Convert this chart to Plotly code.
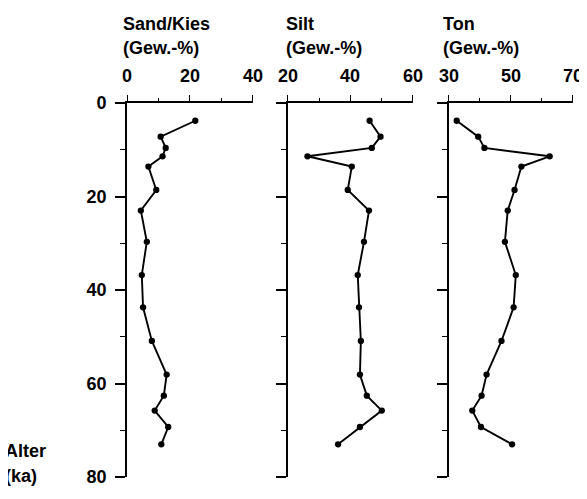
import plotly.graph_objects as go

# ---- data ----
age_ka = [3.8, 7.2, 9.6, 11.4, 13.6, 18.6, 23.0, 29.7, 36.8, 43.7, 50.9, 58.1, 62.6, 65.8, 69.3, 73.0]
sand_kies = [21.7, 10.7, 12.3, 11.3, 6.8, 9.3, 4.4, 6.3, 4.7, 5.1, 7.9, 12.6, 11.7, 8.8, 13.1, 10.9]
silt = [46.2, 49.7, 46.9, 26.3, 40.5, 39.2, 46.0, 44.4, 42.4, 42.8, 43.4, 43.1, 45.3, 50.1, 43.1, 36.1]
ton = [32.6, 39.5, 41.5, 62.5, 53.4, 51.2, 49.0, 48.1, 51.6, 50.9, 47.0, 42.2, 40.6, 37.6, 40.4, 50.4]

panel_titles = ["Sand/Kies", "Silt", "Ton"]
unit_label = "(Gew.-%)"
x_ranges = [[0, 40], [20, 60], [30, 70]]
x_ticks = [[0, 20, 40], [20, 40, 60], [30, 50, 70]]
y_ticks = [0, 20, 40, 60, 80]
y_label = ["Alter", "(ka)"]

# ---- layout geometry (pixels of the 587x499 picture) ----
W, H = 587, 499
L, T = 127, 102.7
R, B = W - 573.5, H - 487
pw = W - L - R
ph = H - T - B
panel_px = [(127, 253), (288, 413), (449, 573.5)]
domains = [[(a - L) / pw, (b - L) / pw] for a, b in panel_px]

def px_x(x):
    return (x - L) / pw

def px_y(y):
    return 1 - (y - T) / ph

FONT = "Liberation Sans, Arial, sans-serif"
fnt = dict(family=FONT, size=18, color="black", weight="bold")

fig = go.Figure()
series = [sand_kies, silt, ton]
annotations = []
for i, vals in enumerate(series):
    sfx = "" if i == 0 else str(i + 1)
    fig.add_trace(go.Scatter(
        x=vals, y=age_ka, mode="lines+markers",
        line=dict(color="black", width=1.9),
        marker=dict(color="black", size=6.3),
        xaxis="x" + sfx, yaxis="y" + sfx, showlegend=False,
        cliponaxis=False, hoverinfo="skip",
    ))
    fig.layout["xaxis" + sfx] = dict(
        domain=domains[i], range=x_ranges[i], anchor="y" + sfx, side="top",
        showline=True, linecolor="black", linewidth=1.5,
        ticks="outside", ticklen=6, tickwidth=1.3, tickcolor="black",
        tickmode="array", tickvals=x_ticks[i], showticklabels=False,
        minor=dict(tickmode="linear", tick0=x_ranges[i][0], dtick=10, ticks="outside",
                   ticklen=3, tickcolor="black", tickwidth=1.2),
        showgrid=False, zeroline=False, fixedrange=True,
        layer="above traces",
    )
    fig.layout["yaxis" + sfx] = dict(
        domain=[0, 1], range=[80, 0], anchor="x" + sfx,
        showline=True, linecolor="black", linewidth=1.6,
        ticks="outside", ticklen=10, tickwidth=1.5, tickcolor="black",
        tickmode="array", tickvals=y_ticks, showticklabels=(i == 0),
        ticklabelstandoff=5,
        minor=dict(tickmode="linear", tick0=0, dtick=10, ticks="outside",
                   ticklen=5, tickcolor="black", tickwidth=1.2),
        showgrid=False, zeroline=False, tickfont=fnt, fixedrange=True,
    )
    # top tick labels, placed on the axis values
    for tv in x_ticks[i]:
        annotations.append(dict(
            text=str(tv), x=tv, xref="x" + sfx, y=px_y(75), yref="paper",
            xanchor="center", yanchor="middle", showarrow=False, font=fnt,
        ))

title_left_px = [121, 284, 441]
for i, t in enumerate(panel_titles):
    annotations.append(dict(text=t, x=px_x(title_left_px[i]), y=px_y(21.5), xref="paper", yref="paper",
                            xanchor="left", yanchor="middle", showarrow=False, font=fnt))
    annotations.append(dict(text=unit_label, x=px_x(title_left_px[i]), y=px_y(46), xref="paper", yref="paper",
                            xanchor="left", yanchor="middle", showarrow=False, font=fnt))
annotations.append(dict(text=y_label[0], x=px_x(3), y=px_y(460), xref="paper", yref="paper",
                        xanchor="left", yanchor="middle", showarrow=False, font=fnt))
annotations.append(dict(text=y_label[1], x=px_x(3), y=px_y(486), xref="paper", yref="paper",
                        xanchor="left", yanchor="middle", showarrow=False, font=fnt))

fig.update_layout(
    margin=dict(l=L, r=R, t=T, b=B, pad=0),
    paper_bgcolor="white", plot_bgcolor="white",
    annotations=annotations, font=fnt, hovermode=False,
)
# the page body has a default 8px margin; pull the plot div back onto the page corner
fig.write_html(
    "out.html",
    config={"displayModeBar": False, "responsive": False},
    default_width=f"{W}px; margin:-8px 0 -8px -8px",
    default_height=f"{H}px",
)
